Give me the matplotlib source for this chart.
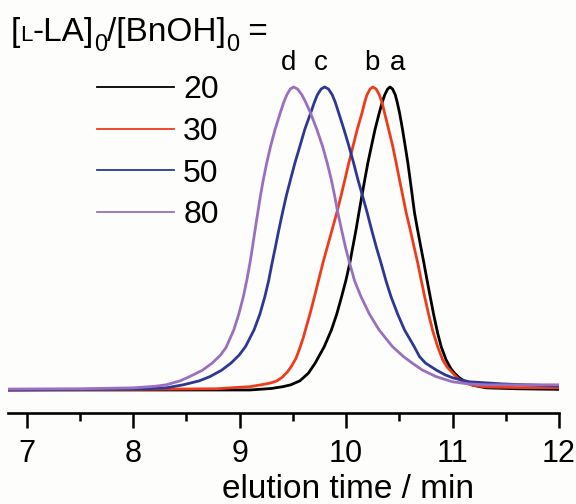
import matplotlib
matplotlib.use("Agg")
import matplotlib.pyplot as plt
from matplotlib.ticker import MultipleLocator

plt.rcParams['font.family'] = ['Liberation Sans', 'DejaVu Sans']

# ---- data ----
labels = ["20", "30", "50", "80"]
colors = ["#000000", "#EE3B1C", "#2D3894", "#9B6FC0"]

# a : [L-LA]0/[BnOH]0 = 20
x_a = [6.83, 8.0, 9.10, 9.30, 9.407, 9.48, 9.565, 9.645, 9.710, 9.795, 9.862,
       9.912, 9.958, 9.997, 10.035, 10.062, 10.093, 10.120, 10.148, 10.175,
       10.205, 10.237, 10.272, 10.312, 10.340, 10.363, 10.390, 10.413,
       10.437, 10.462, 10.480, 10.502, 10.530, 10.556, 10.580, 10.602, 10.622,
       10.643, 10.672, 10.703, 10.731, 10.762, 10.790, 10.822, 10.860, 10.893,
       10.940, 10.985, 11.020, 11.065, 11.120, 11.200, 11.315, 11.600, 12.0]
y_a = [0.0, 0.0, 0.0, 0.005, 0.011, 0.017, 0.030, 0.055, 0.089, 0.143, 0.198,
       0.250, 0.308, 0.360, 0.419, 0.470, 0.528, 0.584, 0.640, 0.693,
       0.750, 0.803, 0.860, 0.915, 0.950, 0.974, 0.993, 1.000,
       0.993, 0.974, 0.950, 0.915, 0.860, 0.803, 0.750, 0.693, 0.640,
       0.584, 0.528, 0.470, 0.419, 0.360, 0.308, 0.250, 0.188, 0.143,
       0.099, 0.070, 0.055, 0.040, 0.027, 0.015, 0.007, 0.004, 0.002]

# b : 30
x_b = [6.83, 8.0, 8.78, 9.10, 9.25, 9.30, 9.35, 9.40, 9.45, 9.49, 9.53, 9.565,
       9.60, 9.618, 9.660, 9.703, 9.740, 9.782, 9.822, 9.868, 9.912, 9.952,
       9.988, 10.026, 10.064, 10.105, 10.150, 10.175, 10.196, 10.225, 10.251,
       10.283, 10.312, 10.337, 10.361, 10.400, 10.439, 10.470, 10.502, 10.533,
       10.565, 10.603, 10.640, 10.673, 10.707, 10.738, 10.775, 10.814, 10.861,
       10.908, 10.950, 11.002, 11.045, 11.096, 11.180, 11.315, 11.600, 12.0]
y_b = [0.0, 0.002, 0.004, 0.011, 0.020, 0.024, 0.030, 0.042, 0.060, 0.080, 0.105,
       0.138, 0.175, 0.198, 0.250, 0.308, 0.360, 0.419, 0.470, 0.528, 0.584,
       0.640, 0.693, 0.750, 0.803, 0.860, 0.915, 0.950, 0.974, 0.993, 1.000,
       0.993, 0.974, 0.950, 0.915, 0.860, 0.803, 0.750, 0.693, 0.640,
       0.584, 0.528, 0.470, 0.419, 0.360, 0.308, 0.250, 0.195, 0.142,
       0.099, 0.075, 0.056, 0.040, 0.027, 0.016, 0.010, 0.008, 0.007]

# c : 50
x_c = [6.83, 7.5, 8.0, 8.31, 8.47, 8.62, 8.72, 8.83, 8.92, 8.995, 9.055, 9.135,
       9.190, 9.237, 9.272, 9.305, 9.335, 9.368, 9.402, 9.438, 9.477, 9.520,
       9.565, 9.612, 9.668, 9.703, 9.730, 9.765, 9.798,
       9.835, 9.870, 9.898, 9.930, 9.980, 10.028, 10.070, 10.112, 10.155,
       10.199, 10.240, 10.285, 10.328, 10.375, 10.422, 10.485, 10.549, 10.640,
       10.690, 10.745, 10.846, 10.930, 11.002, 11.158, 11.468, 12.0]
y_c = [0.0, 0.002, 0.003, 0.007, 0.017, 0.030, 0.044, 0.065, 0.089, 0.115, 0.143,
       0.198, 0.250, 0.308, 0.360, 0.419, 0.470, 0.528, 0.584, 0.640, 0.693,
       0.750, 0.803, 0.860, 0.915, 0.950, 0.974, 0.993, 1.000,
       0.993, 0.974, 0.950, 0.915, 0.860, 0.803, 0.750, 0.693, 0.640,
       0.584, 0.528, 0.470, 0.419, 0.360, 0.308, 0.250, 0.198, 0.143,
       0.110, 0.089, 0.066, 0.050, 0.040, 0.027, 0.020, 0.013]

# d : 80
x_d = [6.83, 7.5, 8.0, 8.2, 8.31, 8.44, 8.53, 8.65, 8.74, 8.82, 8.872, 8.945,
       8.992, 9.035, 9.066, 9.097, 9.120, 9.145, 9.170, 9.195, 9.222, 9.255,
       9.290, 9.333, 9.382, 9.415, 9.443, 9.475, 9.507,
       9.545, 9.585, 9.620, 9.665, 9.725, 9.780, 9.822, 9.862, 9.893, 9.923,
       9.958, 9.995, 10.033, 10.080, 10.140, 10.220, 10.310, 10.436, 10.540,
       10.620, 10.715, 10.846, 10.999, 11.150, 11.315, 12.0]
y_d = [0.003, 0.004, 0.007, 0.012, 0.017, 0.030, 0.044, 0.065, 0.088, 0.115,
       0.140, 0.198, 0.250, 0.308, 0.360, 0.419, 0.470, 0.528, 0.584, 0.640,
       0.693, 0.750, 0.803, 0.860, 0.915, 0.950, 0.974, 0.993, 1.000,
       0.993, 0.974, 0.950, 0.915, 0.860, 0.803, 0.750, 0.693, 0.640, 0.584,
       0.528, 0.470, 0.419, 0.360, 0.308, 0.250, 0.198, 0.143, 0.110,
       0.089, 0.066, 0.044, 0.027, 0.020, 0.017, 0.017]

xs = [x_a, x_b, x_c, x_d]
ys = [y_a, y_b, y_c, y_d]

peak_letters = ["a", "b", "c", "d"]
peak_letter_x = [10.483, 10.239, 9.761, 9.463]
peak_letter_y = 1.056

xticks = [7, 8, 9, 10, 11, 12]

# ---- figure ----
W, H = 576, 504
fig = plt.figure(figsize=(W / 100, H / 100), dpi=100, facecolor="#fdfdfb")
ax = fig.add_axes([8.3 / W, (H - 413.3) / H, (559 - 8.3) / W, 413.3 / H])
ax.set_facecolor("none")

lines = []
for x, y, c, lab in zip(xs, ys, colors, labels):
    ln, = ax.plot(x, y, color=c, lw=2.0, label=lab, solid_joinstyle="round")
    lines.append(ln)

ax.set_xlim(6.827, 12.0)
ax.set_ylim(-0.077, 1.287)

for s in ["left", "right", "top"]:
    ax.spines[s].set_visible(False)
ax.spines["bottom"].set_linewidth(1.9)
ax.set_yticks([])
ax.set_xticks(xticks)
ax.xaxis.set_minor_locator(MultipleLocator(0.5))
ax.tick_params(axis="x", which="major", direction="out", length=10.5, width=1.8,
               labelsize=22, pad=8)
ax.tick_params(axis="x", which="minor", direction="out", length=5.8, width=1.8)

for t, xl in zip(peak_letters, peak_letter_x):
    ax.text(xl, peak_letter_y, t, ha="center", va="baseline", fontsize=20)

fig.text(0.604, 0.029, "elution time / min", ha="center", va="center", fontsize=24)

# legend
leg = ax.legend(handles=lines, labels=labels, loc="upper left",
                bbox_to_anchor=(97 / W, 1 - 75 / H), bbox_transform=fig.transFigure,
                frameon=False, fontsize=23, handlelength=2.4, handletextpad=0.3,
                labelspacing=0.37, borderpad=0, borderaxespad=0)
for h in leg.get_lines():
    h.set_linewidth(1.3)

# title "[L-LA]0/[BnOH]0 ="
base = 1 - 41 / H
sub_shift = -10 / H
pieces = [("[", 24, 0), ("L", 16, 0), ("-LA]", 24, 0), ("0", 17, sub_shift),
          ("/[BnOH]", 24, 0), ("0", 17, sub_shift), (" =", 24, 0)]
prev = None
for s, fs, dy in pieces:
    if prev is None:
        prev = ax.annotate(s, xy=(11 / W, base + dy), xycoords="figure fraction",
                           ha="left", va="baseline", fontsize=fs,
                           annotation_clip=False)
    else:
        prev = ax.annotate(s, xy=(1, base + dy), xycoords=(prev, "figure fraction"),
                           ha="left", va="baseline", fontsize=fs,
                           annotation_clip=False)

fig.savefig("out.png", dpi=100, facecolor=fig.get_facecolor())
